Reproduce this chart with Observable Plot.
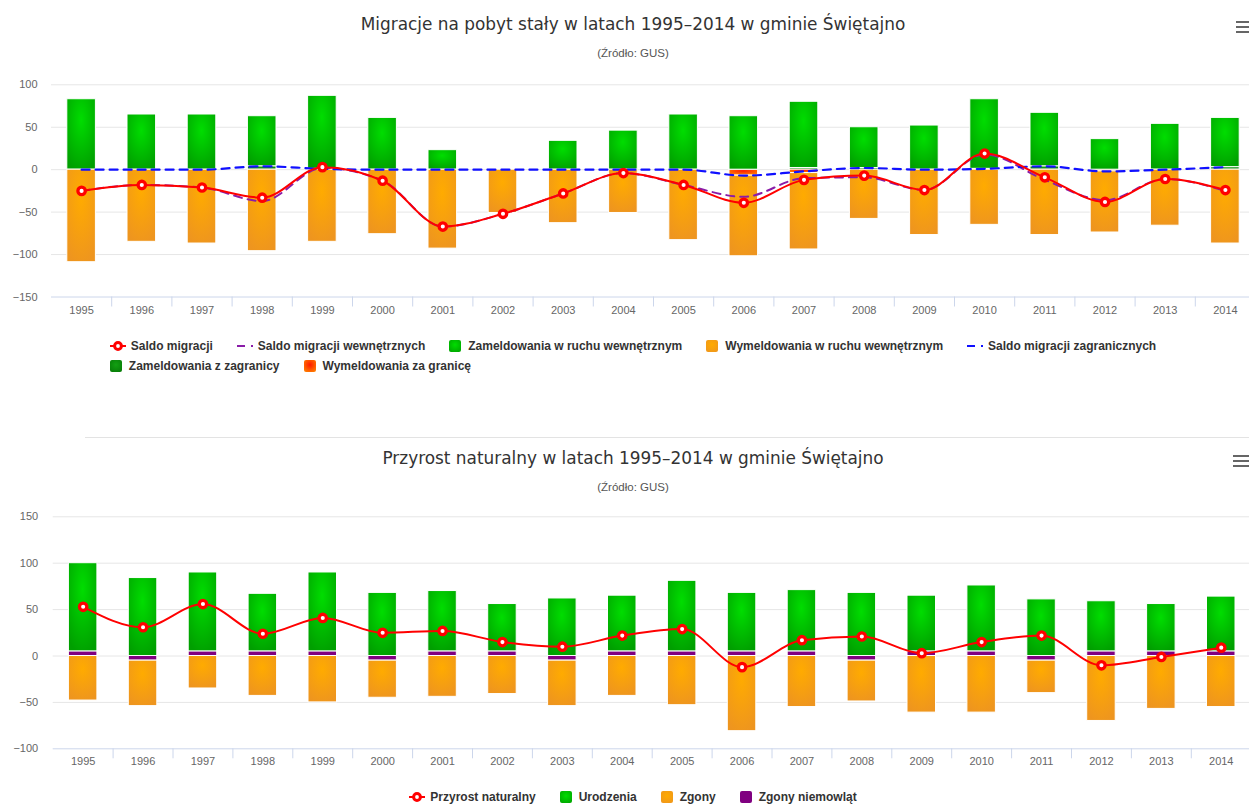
<!DOCTYPE html>
<html><head><meta charset="utf-8">
<script src="https://cdn.jsdelivr.net/npm/d3@7"></script>
<script src="https://cdn.jsdelivr.net/npm/@observablehq/plot@0.6"></script>
<style>
body{margin:0;background:#fff;font-family:"Liberation Sans",Arial,sans-serif;overflow:hidden;}
#page{position:relative;width:1249px;height:805px;overflow:hidden;}
.title{position:absolute;left:0;width:1266px;text-align:center;font-family:"DejaVu Sans",sans-serif;font-size:17px;line-height:20px;color:#333;}
.sub{position:absolute;left:0;width:1266px;text-align:center;font-size:11.5px;line-height:12px;color:#555;}
.chart{position:absolute;left:0;}
.legend{position:absolute;left:0;width:1266px;display:flex;justify-content:center;}
.lbox{display:flex;flex-direction:column;gap:8px;}
.lrow{display:flex;gap:24px;align-items:center;}
.item{display:flex;align-items:center;font-weight:bold;font-size:12px;line-height:12px;color:#333;white-space:nowrap;}
.item svg{margin-right:5px;}
.sq{width:12px;height:12px;border-radius:2px;margin-right:7px;}
.burger{position:absolute;width:16px;height:2px;background:#666;}
.sep{position:absolute;left:85px;right:0;top:437px;border-top:1px solid #e3e3e3;}
</style></head>
<body><div id="page">
<div class="title" id="t1" style="top:14px">Migracje na pobyt stały w latach 1995–2014 w gminie Świętajno</div>
<div class="sub" style="top:47px">(Źródło: GUS)</div>
<div class="burger" style="left:1236px;top:21px"></div>
<div class="burger" style="left:1236px;top:26px"></div>
<div class="burger" style="left:1236px;top:31px"></div>
<div id="c1" class="chart" style="top:70px"></div>
<div id="leg1" class="legend" style="top:340px"></div>
<div class="sep"></div>
<div class="title" id="t2" style="top:448px">Przyrost naturalny w latach 1995–2014 w gminie Świętajno</div>
<div class="sub" style="top:481px">(Źródło: GUS)</div>
<div class="burger" style="left:1233px;top:455px"></div>
<div class="burger" style="left:1233px;top:460px"></div>
<div class="burger" style="left:1233px;top:465px"></div>
<div id="c2" class="chart" style="top:500px"></div>
<div id="leg2" class="legend" style="top:791px"></div>
</div>
<script>
// ---------- data ----------
const years = ["1995","1996","1997","1998","1999","2000","2001","2002","2003","2004","2005","2006","2007","2008","2009","2010","2011","2012","2013","2014"];

// Chart 1: migracje
const saldoMigracji        = [-25,-18,-21,-33,3,-13,-67,-52,-28,-4,-18,-39,-12,-7,-24,19,-9,-38,-11,-24];
const saldoWewnetrznych    = [-25,-18,-21,-37,2,-13,-67,-52,-28,-4,-18,-32,-10,-9,-24,18,-12,-36,-11,-25];
const zameldowaniaWewn     = [83,65,65,59,86,61,23,0,34,46,65,63,78,48,52,82,63,36,54,58];
const wymeldowaniaWewn     = [-109,-85,-87,-96,-85,-76,-93,-51,-63,-51,-83,-95,-90,-58,-77,-65,-77,-72,-66,-87];
const saldoZagranicznych   = [0,0,0,4,1,0,0,0,0,0,0,-7,-2,2,0,1,4,-2,0,3];
const zameldowaniaZagr     = [0,0,0,4,1,0,0,0,0,0,0,0,2,2,0,1,4,0,0,3];
const wymeldowaniaZagr     = [0,0,0,0,0,0,0,0,0,0,0,-7,-4,0,0,0,0,-2,0,0];

// Chart 2: przyrost naturalny
const przyrostNaturalny = [53,31,56,24,41,25,27,15,10,22,29,-12,17,21,3,15,22,-10,-1,9];
const urodzenia         = [95,84,85,62,85,68,65,51,62,60,76,63,66,68,60,71,61,54,51,59];
const zgony             = [-48,-49,-35,-43,-50,-40,-44,-41,-49,-43,-53,-81,-55,-44,-61,-61,-35,-70,-57,-55];
const zgonyNiemowlat    = [5,-5,5,5,5,-5,5,5,-5,5,5,5,5,-5,5,5,-5,5,5,5];

const ticks1 = [-150,-100,-50,0,50,100];
const ticks2 = [-100,-50,0,50,100,150];

// ---------- series names & styles ----------
const S1 = ["Saldo migracji","Saldo migracji wewnętrznych","Zameldowania w ruchu wewnętrznym","Wymeldowania w ruchu wewnętrznym","Saldo migracji zagranicznych","Zameldowania z zagranicy","Wymeldowania za granicę"];
const S2 = ["Przyrost naturalny","Urodzenia","Zgony","Zgony niemowląt"];

// fit title font size to the reference title width
{
  const ctx = document.createElement("canvas").getContext("2d");
  ctx.font = '18px "DejaVu Sans"';
  const w = ctx.measureText(document.getElementById("t1").textContent).width;
  const fs = Math.min(19, 18 * 545 / w);
  document.getElementById("t1").style.fontSize = fs + "px";
  document.getElementById("t2").style.fontSize = fs + "px";
}

const grads = {
  gGreen:  ["#00dd00","#009f00"],
  gOrange: ["#ffab00","#ee951f"],
  gDark:   ["#12a012","#067806"],
  gRed:    ["#ff1a00","#ff8c00"]
};
function addDefs(svg, suffix){
  let h = "";
  for (const [id,[a,b]] of Object.entries(grads)) {
    h += `<radialGradient id="${id}${suffix}" cx="0.5" cy="0.3" r="0.75"><stop offset="0" stop-color="${a}"/><stop offset="1" stop-color="${b}"/></radialGradient>`;
  }
  d3.select(svg).insert("defs", ":first-child").html(h);
}

const W = 1249;
function rows(names){
  const out = [];
  years.forEach((y,i) => names.forEach(([n,arr]) => { if (arr[i] !== 0) out.push({year:y, series:n, value:arr[i]}); }));
  return out;
}
const pts = (arr) => years.map((y,i)=>({year:y, v:arr[i]}));

// ---------- chart 1 ----------
const bars1 = rows([
  [S1[5], zameldowaniaZagr], [S1[6], wymeldowaniaZagr],
  [S1[2], zameldowaniaWewn], [S1[3], wymeldowaniaWewn]
]);
const half1 = (1255-51)/20/2;

const chart1 = Plot.plot({
  width: W, height: 250, marginLeft: 51, marginRight: 0, marginTop: 14.3, marginBottom: 23.5,
  style: {fontFamily: '"Liberation Sans", Arial, sans-serif', background: "transparent"},
  x: {type: "band", domain: years, range: [51, 1255], padding: 0, round: false, axis: null},
  y: {domain: [-150, 100], range: [226.5, 14.3], axis: null},
  color: {domain: [S1[2],S1[3],S1[5],S1[6]], range: ["url(#gGreen1)","url(#gOrange1)","url(#gDark1)","url(#gRed1)"]},
  marks: [
    Plot.gridY(ticks1.slice(1), {stroke: "#e6e6e6", strokeOpacity: 1}),
    Plot.ruleY([-150], {stroke: "#ccd6eb"}),
    Plot.ruleX(years.slice(1), {x: d => d, dx: -half1, y1: -150, y2: -150, insetBottom: -10, stroke: "#ccd6eb"}),
    Plot.barY(bars1, {x: "year", y: "value", fill: "series", stroke: "white", strokeWidth: 1, insetLeft: 15.8, insetRight: 15.8}),
    Plot.lineY(pts(saldoWewnetrznych), {x: "year", y: "v", stroke: "#8a1ca8", strokeWidth: 2, strokeDasharray: "8,6", curve: "monotone-x"}),
    Plot.lineY(pts(saldoZagranicznych), {x: "year", y: "v", stroke: "#1010ff", strokeWidth: 2.2, strokeDasharray: "8,6", curve: "monotone-x"}),
    Plot.lineY(pts(saldoMigracji), {x: "year", y: "v", stroke: "#ff0000", strokeWidth: 2, curve: "monotone-x"}),
    Plot.dot(pts(saldoMigracji), {x: "year", y: "v", r: 3.7, fill: "white", stroke: "#ff0000", strokeWidth: 3.3}),
    Plot.axisY(ticks1, {tickSize: 0, tickPadding: 14, fontSize: 11, fill: "#666", label: null}),
    Plot.axisX({tickSize: 0, tickPadding: 9, fontSize: 11, fill: "#666", label: null})
  ]
});
addDefs(chart1, "1");
document.getElementById("c1").appendChild(chart1);

// ---------- chart 2 ----------
const bars2 = rows([
  [S2[3], zgonyNiemowlat], [S2[1], urodzenia], [S2[2], zgony]
]);
const half2 = (1250.7-52.7)/20/2;
const chart2 = Plot.plot({
  width: W, height: 270, marginLeft: 52.7, marginRight: 0, marginTop: 16.3, marginBottom: 21.7,
  style: {fontFamily: '"Liberation Sans", Arial, sans-serif', background: "transparent"},
  x: {type: "band", domain: years, range: [52.7, 1250.7], padding: 0, round: false, axis: null},
  y: {domain: [-100, 150], range: [248.3, 16.3], axis: null},
  color: {domain: [S2[1],S2[2],S2[3]], range: ["url(#gGreen2)","url(#gOrange2)","#800080"]},
  marks: [
    Plot.gridY(ticks2.slice(1), {stroke: "#e6e6e6", strokeOpacity: 1}),
    Plot.ruleY([-100], {stroke: "#ccd6eb"}),
    Plot.ruleX(years.slice(1), {x: d => d, dx: -half2, y1: -100, y2: -100, insetBottom: -10, stroke: "#ccd6eb"}),
    Plot.barY(bars2, {x: "year", y: "value", fill: "series", stroke: "white", strokeWidth: 1, insetLeft: 15.7, insetRight: 15.7}),
    Plot.lineY(pts(przyrostNaturalny), {x: "year", y: "v", stroke: "#ff0000", strokeWidth: 2, curve: "monotone-x"}),
    Plot.dot(pts(przyrostNaturalny), {x: "year", y: "v", r: 3.7, fill: "white", stroke: "#ff0000", strokeWidth: 3.3}),
    Plot.axisY(ticks2, {tickSize: 0, tickPadding: 15, fontSize: 11, fill: "#666", label: null}),
    Plot.axisX({tickSize: 0, tickPadding: 8, fontSize: 11, fill: "#666", label: null})
  ]
});
addDefs(chart2, "2");
document.getElementById("c2").appendChild(chart2);

// ---------- legends ----------
function lineSym(color, dashed, marker){
  return `<svg width="16" height="12"><line x1="0" x2="16" y1="6" y2="6" stroke="${color}" stroke-width="2" ${dashed ? 'stroke-dasharray="8,6"' : ''}/>${marker ? `<circle cx="8" cy="6" r="3.4" fill="white" stroke="${color}" stroke-width="3"/>` : ''}</svg>`;
}
function sqSym(a,b){ return `<div class="sq" style="background:radial-gradient(circle at 50% 40%, ${a}, ${b})"></div>`; }
function item(sym, label){ return `<div class="item">${sym}${label}</div>`; }

document.getElementById("leg1").innerHTML = `<div class="lbox">
 <div class="lrow">
  ${item(lineSym("#ff0000", false, true), S1[0])}
  ${item(lineSym("#8a1ca8", true, false), S1[1])}
  ${item(sqSym(...grads.gGreen), S1[2])}
  ${item(sqSym(...grads.gOrange), S1[3])}
  ${item(lineSym("#1010ff", true, false), S1[4])}
 </div>
 <div class="lrow">
  ${item(sqSym(...grads.gDark), S1[5])}
  ${item(sqSym(...grads.gRed), S1[6])}
 </div></div>`;

document.getElementById("leg2").innerHTML = `<div class="lbox"><div class="lrow">
  ${item(lineSym("#ff0000", false, true), S2[0])}
  ${item(sqSym(...grads.gGreen), S2[1])}
  ${item(sqSym(...grads.gOrange), S2[2])}
  ${item(sqSym("#800080","#800080"), S2[3])}
 </div></div>`;
</script>
</body></html>
